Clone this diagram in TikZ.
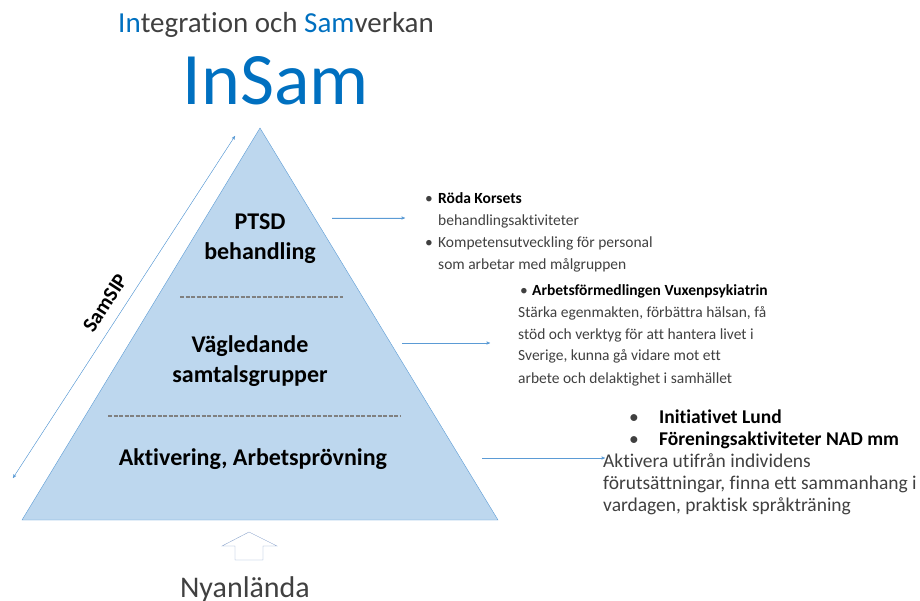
\documentclass[tikz,border=0pt]{standalone}
\usepackage{fontspec}
\setmainfont{Carlito}[Ligatures=NoCommon]
\usetikzlibrary{arrows,shapes,positioning}
\usepackage{color}
\definecolor{pyrfill}{RGB}{189,215,238}
\definecolor{pyrline}{RGB}{91,155,213}
\definecolor{arrowgray}{RGB}{140,165,205}
\definecolor{titleblue}{RGB}{0,112,192}
\definecolor{bodygray}{RGB}{64,64,64}

\begin{document}
\begin{tikzpicture}[x=1pt,y=-1pt,>=stealth']

	\tikzstyle{tier}=[
		font=\bfseries\fontsize{24}{30}\selectfont,
		text=black,
		inner sep=0pt,
		anchor=base
	]
	\tikzstyle{info}=[
		font=\fontsize{15.5}{22}\selectfont,
		text=bodygray,
		inner sep=0pt,
		anchor=base west
	]
	\tikzstyle{post}=[->, thin, draw=pyrline, fill=pyrline]
	\tikzstyle{sep}=[draw=gray, line width=2pt, dash pattern=on 4pt off 1.5pt]

	\useasboundingbox (0,0) rectangle (920,601);

	% pyramid
	\draw[draw=pyrline, fill=pyrfill, thin] (260,128) -- (22,520) -- (498,520) -- cycle;
	\draw[sep] (180,297) -- (343,297);
	\draw[sep] (108,416) -- (400,416);

	\node [font=\fontsize{29}{34}\selectfont, text=bodygray, anchor=base] (subtitle) at (276,33) {\textcolor{titleblue}{In}tegration och \textcolor{titleblue}{Sam}verkan};
	\node [font=\fontsize{74}{80}\selectfont, text=titleblue, anchor=base] (insam) at (276,105) {InSam};

	\node [tier] (ptsd) at (260,230) {\parbox[t]{140pt}{\centering PTSD\\behandling}};
	\node [tier] (vag) at (250,352) {\parbox[t]{200pt}{\centering V\"agledande\\samtalsgrupper}};
	\node [tier] (akt) at (253,465) {Aktivering, Arbetspr\"ovning};

	\node [tier, font=\bfseries\fontsize{21}{24}\selectfont, rotate=57, anchor=center] (samsip) at (105,303) {SamSIP};
	\coordinate (sipA) at (13,478);
	\coordinate (sipB) at (235,136);
	\draw[<->, thin, draw=pyrline, fill=pyrline] (sipA) -- (sipB);

	\node [info] (roda) at (425,204) {\parbox[t]{260pt}{\raggedright
		\makebox[13pt][l]{\textbullet}\textbf{\textcolor{black}{R\"oda Korsets}}\\
		\hspace*{13pt}behandlingsaktiviteter\\
		\makebox[13pt][l]{\textbullet}Kompetensutveckling f\"or personal\\
		\hspace*{13pt}som arbetar med m\aa lgruppen}};

	\node [info] (arbf) at (518,295) {\parbox[t]{300pt}{\raggedright
		\hspace*{2pt}\makebox[12pt][l]{\textbullet}\textbf{\textcolor{black}{Arbetsf\"ormedlingen Vuxenpsykiatrin}}\\
		St\"arka egenmakten, f\"orb\"attra h\"alsan, f\aa\\
		st\"od och verktyg f\"or att hantera livet i\\
		Sverige, kunna g\aa{} vidare mot ett\\
		arbete och delaktighet i samh\"allet}};

	\node [info, font=\fontsize{19.5}{22}\selectfont] (init) at (603,423) {\parbox[t]{330pt}{\raggedright
		\hspace*{26pt}\makebox[30pt][l]{\textbullet}\textbf{\textcolor{black}{Initiativet Lund}}\\
		\hspace*{26pt}\makebox[30pt][l]{\textbullet}\textbf{\textcolor{black}{F\"oreningsaktiviteter NAD mm}}\\
		Aktivera utifr\aa n individens\\
		f\"oruts\"attningar, finna ett sammanhang i\\
		vardagen, praktisk spr\aa ktr\"aning}};

	\coordinate (p1) at (332,218);
	\coordinate (q1) at (405,218);
	\coordinate (p2) at (402,343);
	\coordinate (q2) at (490,343);
	\coordinate (p3) at (482,458);
	\coordinate (q3) at (605,458);
	\draw[post] (p1)--(q1);
	\draw[post] (p2)--(q2);
	\draw[post] (p3)--(q3);

	% hollow arrow up
	\draw[draw=arrowgray, fill=white, thin] (249,532) -- (277,546) -- (263,546) -- (263,560) -- (235,560) -- (235,546) -- (222,546) -- cycle;

	\node [font=\fontsize{30}{34}\selectfont, text=bodygray, anchor=base] (nyan) at (245,597) {Nyanl\"anda};

\end{tikzpicture}
\end{document}
